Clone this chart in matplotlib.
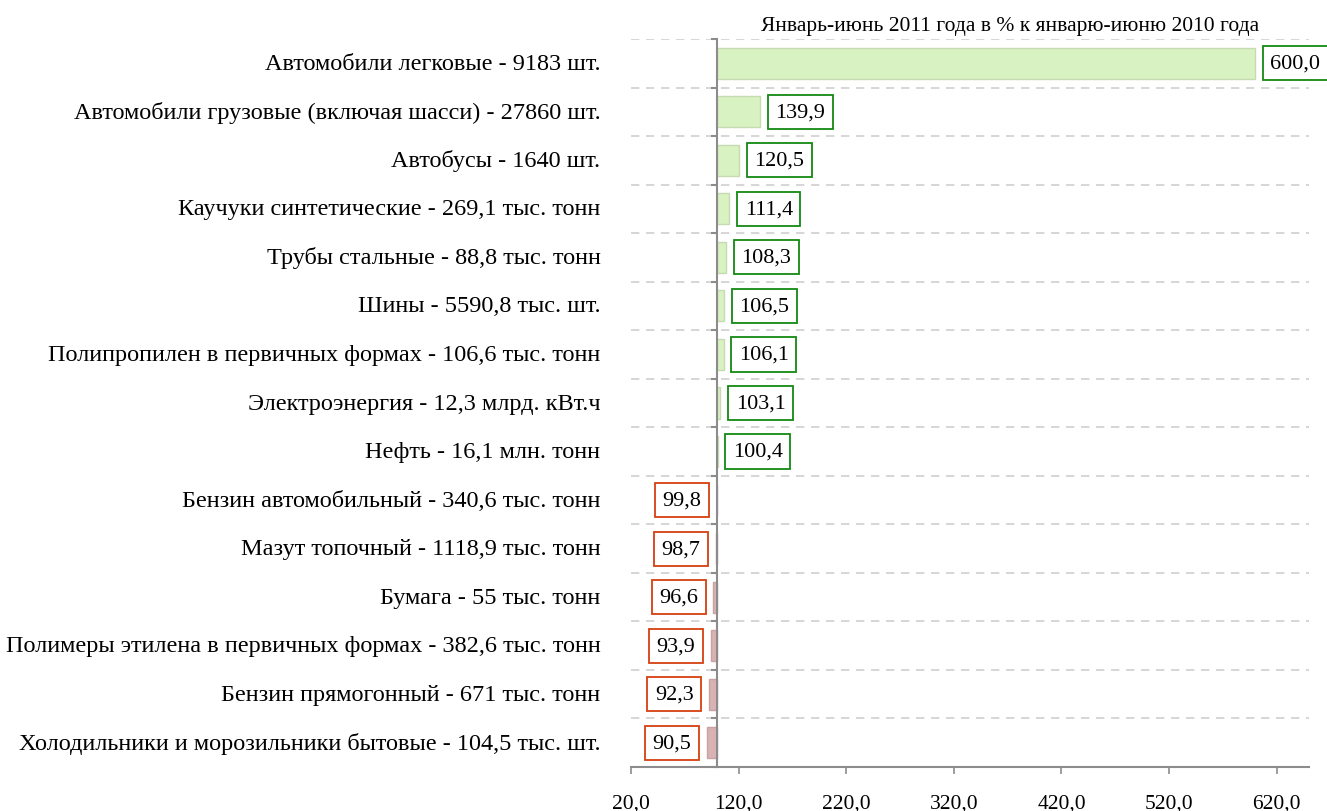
import matplotlib
matplotlib.use("Agg")
import matplotlib.pyplot as plt
import numpy as np

plt.rcParams["font.family"] = ["Liberation Serif", "DejaVu Serif"]

categories = [
    "Автомобили легковые - 9183 шт.",
    "Автомобили грузовые (включая шасси) - 27860 шт.",
    "Автобусы - 1640 шт.",
    "Каучуки синтетические - 269,1 тыс. тонн",
    "Трубы стальные - 88,8 тыс. тонн",
    "Шины - 5590,8 тыс. шт.",
    "Полипропилен в первичных формах - 106,6 тыс. тонн",
    "Электроэнергия - 12,3 млрд. кВт.ч",
    "Нефть - 16,1 млн. тонн",
    "Бензин автомобильный - 340,6 тыс. тонн",
    "Мазут топочный - 1118,9 тыс. тонн",
    "Бумага - 55 тыс. тонн",
    "Полимеры этилена в первичных формах - 382,6 тыс. тонн",
    "Бензин прямогонный - 671 тыс. тонн",
    "Холодильники и морозильники бытовые - 104,5 тыс. шт.",
]
values = [600.0, 139.9, 120.5, 111.4, 108.3, 106.5, 106.1, 103.1, 100.4,
          99.8, 98.7, 96.6, 93.9, 92.3, 90.5]
xticks = [20, 120, 220, 320, 420, 520, 620]
BASE = 100

GREEN_FILL, GREEN_EDGE, GREEN_BOX = "#d9f2c2", "#c6dbb2", "#138a13"
RED_FILL, RED_EDGE, RED_BOX = "#d9b3b3", "#c9a3a3", "#d64010"
GRAY = "#8c8c8c"

fig = plt.figure(figsize=(13.27, 8.12), dpi=100)
ax = fig.add_axes([0.4755, 0.0542, 0.5109, 0.8965])

vals = np.array(values)
y = np.arange(len(vals))
pos = vals >= BASE
ax.barh(y[pos], vals[pos] - BASE, left=BASE, height=0.64,
        color=GREEN_FILL, edgecolor=GREEN_EDGE, linewidth=1)
ax.barh(y[~pos], vals[~pos] - BASE, left=BASE, height=0.64,
        color=RED_FILL, edgecolor=RED_EDGE, linewidth=1)

for yi, v in zip(y, vals):
    txt = f"{v:.1f}".replace(".", ",")
    if v >= BASE:
        ax.annotate(txt, (v, yi), xytext=(11, 0), textcoords="offset points",
                    ha="left", va="center", fontsize=16,
                    bbox=dict(boxstyle="square,pad=0.34", fc="white",
                              ec=GREEN_BOX, lw=1.3))
    else:
        ax.annotate(txt, (v, yi), xytext=(-11, 0), textcoords="offset points",
                    ha="right", va="center", fontsize=16,
                    bbox=dict(boxstyle="square,pad=0.34", fc="white",
                              ec=RED_BOX, lw=1.3))

# category labels left of the plot area
for yi, c in zip(y, categories):
    ax.annotate(c, (0, yi), xycoords=("axes fraction", "data"),
                xytext=(-22, 0), textcoords="offset points",
                ha="right", va="center", fontsize=17.5)

ax.set_xlim(20, 650)
ax.set_ylim(len(vals) - 0.5, -0.5)

# dashed separators between rows
for b in np.arange(-0.5, len(vals) - 1, 1.0):
    ax.axhline(b, color="#d0d0d0", lw=1.2, ls=(0, (5, 4)), zorder=0)

for s in ("top", "right"):
    ax.spines[s].set_visible(False)
ax.spines["left"].set_position(("data", BASE))
ax.spines["left"].set_color(GRAY)
ax.spines["left"].set_linewidth(1.5)
ax.spines["bottom"].set_color(GRAY)
ax.spines["bottom"].set_linewidth(1.5)

ax.set_yticks(np.arange(-0.5, len(vals), 1.0))
ax.set_yticklabels([])
ax.tick_params(axis="y", length=4, width=1.5, color=GRAY, direction="out")

ax.set_xticks(xticks)
ax.set_xticklabels([f"{t:.1f}".replace(".", ",") for t in xticks])
ax.tick_params(axis="x", length=5, width=1.2, color=GRAY, pad=14,
               labelsize=15.5)

fig.text(1010 / 1327, 1 - 27 / 812,
         "Январь-июнь 2011 года в % к январю-июню 2010 года",
         ha="center", va="center", fontsize=15.5)

fig.savefig("out.png", dpi=100)
